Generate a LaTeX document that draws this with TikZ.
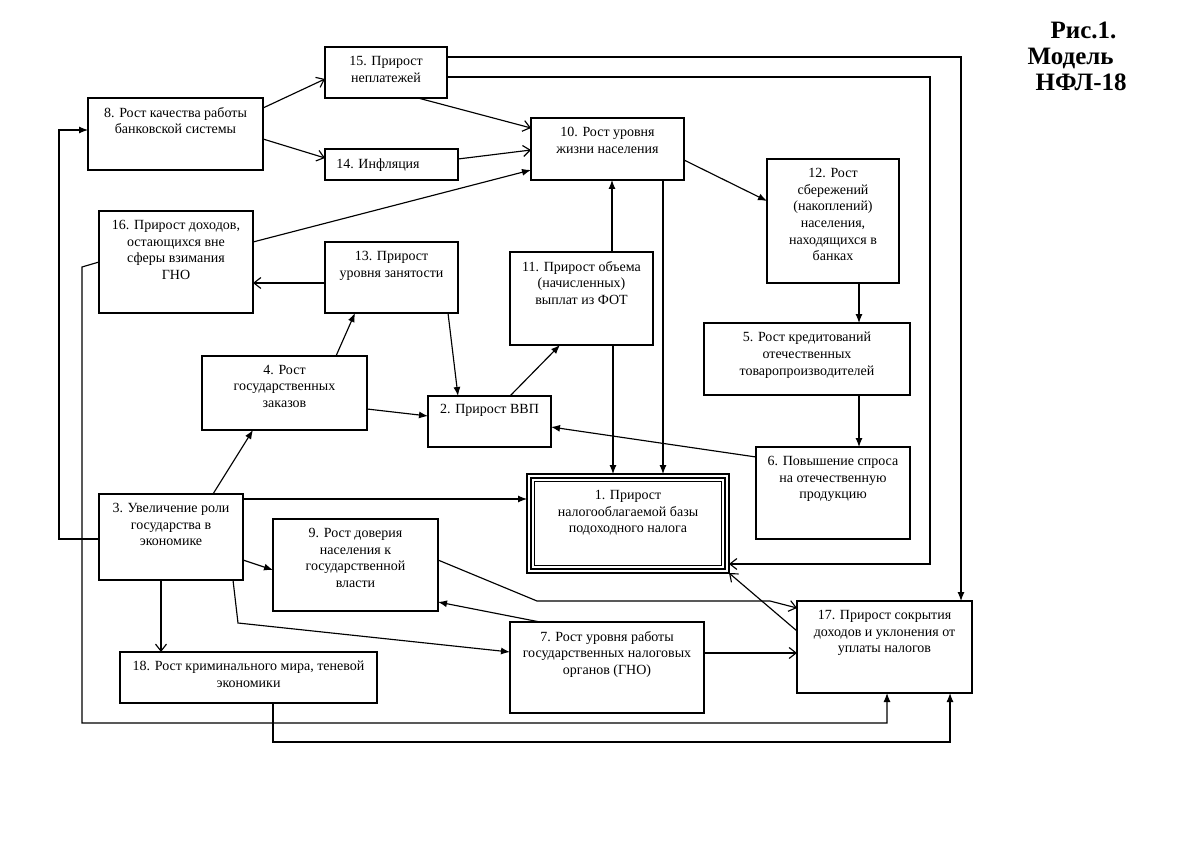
\documentclass[tikz,border=0pt]{standalone}
\usepackage{fontspec}
\setmainfont{Liberation Serif}
\usetikzlibrary{arrows.meta}
\newcommand\mkbox[8]{%
  \node[box, minimum width={(#4-#2)*1pt}, minimum height={(#5-#3)*1pt}] (#1) at ({(#2+#4)/2},{(#3+#5)/2}) {};
  \node[txt, anchor=north] (#1t) at ({(#2+#4)/2+#7},{#3+#6}) {#8};}
\begin{document}
\begin{tikzpicture}[x=1pt,y=-1pt, line width=1.15pt,
  box/.style={draw, rectangle, inner sep=0pt, outer sep=0pt},
  txt/.style={inner sep=0pt, align=center, font=\fontsize{14}{16.7}\selectfont},
  fa/.style={-{Latex[length=9pt,width=7pt]}},
  oa/.style={-{Straight Barb[length=7pt,width=11pt]}},
  ttl/.style={inner sep=0pt, anchor=base west, font=\fontsize{25}{26}\selectfont\bfseries}]
\useasboundingbox (0,0) rectangle (1200,848);

\node[ttl] (t1) at (1050,39) {Рис.1.};
\node[ttl] (t2) at (1027,65) {Модель};
\node[ttl] (t3) at (1035,91) {НФЛ-18};

\mkbox{b15}{325}{47}{447}{98}{8.5}{0}{15. Прирост\\неплатежей}
\mkbox{b8}{88}{98}{263}{170}{8.5}{0}{8. Рост качества работы\\банковской системы}
\mkbox{b14}{325}{149}{458}{180}{9}{-13.5}{14. Инфляция}
\mkbox{b10}{531}{118}{684}{180}{8.5}{0}{10. Рост уровня\\жизни населения}
\mkbox{b12}{767}{159}{899}{283}{8.5}{0}{12. Рост\\сбережений\\(накоплений)\\населения,\\находящихся в\\банках}
\mkbox{b16}{99}{211}{253}{313}{8.5}{0}{16. Прирост доходов,\\остающихся вне\\сферы взимания\\ГНО}
\mkbox{b13}{325}{242}{458}{313}{8.5}{0}{13. Прирост\\уровня занятости}
\mkbox{b11}{510}{252}{653}{345}{8.5}{0}{11. Прирост объема\\(начисленных)\\выплат из ФОТ}
\mkbox{b5}{704}{323}{910}{395}{8.5}{0}{5. Рост кредитований\\отечественных\\товаропроизводителей}
\mkbox{b4}{202}{356}{367}{430}{8.5}{0}{4. Рост\\государственных\\заказов}
\mkbox{b2}{428}{396}{551}{447}{7.5}{0}{2. Прирост ВВП}
\mkbox{b6}{756}{447}{910}{539}{8.5}{0}{6. Повышение спроса\\на отечественную\\продукцию}
\mkbox{b1}{527}{474}{729}{573}{15.5}{0}{1. Прирост\\налогооблагаемой базы\\подоходного налога}
\mkbox{b3}{99}{494}{243}{580}{8.5}{0}{3. Увеличение роли\\государства в\\экономике}
\mkbox{b9}{273}{519}{438}{611}{8.5}{0}{9. Рост доверия\\населения к\\государственной\\власти}
\mkbox{b7}{510}{622}{704}{713}{8.5}{0}{7. Рост уровня работы\\государственных налоговых\\органов (ГНО)}
\mkbox{b17}{797}{601}{972}{693}{8.5}{0}{17. Прирост сокрытия\\доходов и уклонения от\\уплаты налогов}
\mkbox{b18}{120}{652}{377}{703}{8.5}{0}{18. Рост криминального мира, теневой\\экономики}

% triple border of box 1
\draw[line width=1.9pt] ([shift={(4pt,-4pt)}]b1.north west) rectangle ([shift={(-4pt,4pt)}]b1.south east);
\draw[line width=0.8pt] ([shift={(7.5pt,-7.5pt)}]b1.north west) rectangle ([shift={(-7.5pt,7.5pt)}]b1.south east);

% connectors
\draw[oa] ([yshift=-10pt]b8.north east) -- ([yshift=-32pt]b15.north west);
\draw[oa] ([yshift=-41pt]b8.north east) -- ([yshift=-9pt]b14.north west);
\draw[oa] ([xshift=93pt]b15.south west) -- ([yshift=-10pt]b10.north west);
\draw[oa] ([yshift=-10pt]b14.north east) -- ([yshift=-32pt]b10.north west);
\draw[fa] ([yshift=-31pt]b16.north east) -- ([yshift=-52pt]b10.north west);
\draw[oa] ([yshift=-41pt]b13.north west) -- ([yshift=-72pt]b16.north east);
\draw[fa] ([xshift=134pt]b4.north west) -- ([xshift=30pt]b13.south west);
\draw[fa] ([xshift=123pt]b13.south west) -- ([xshift=30pt]b2.north west);
\draw[fa] ([yshift=-53pt]b4.north east) -- ([yshift=-20pt]b2.north west);
\draw[fa] ([xshift=82pt]b2.north west) -- ([xshift=50pt]b11.south west);
\draw[fa] ([xshift=102pt]b11.north west) -- ([xshift=81pt]b10.south west);
\draw[fa] ([yshift=-42pt]b10.north east) -- ([yshift=-42pt]b12.north west);
\draw[fa] ([xshift=92pt]b12.south west) -- ([xshift=155pt]b5.north west);
\draw[fa] ([xshift=155pt]b5.south west) -- ([xshift=103pt]b6.north west);
\draw[fa] ([yshift=-10pt]b6.north west) -- ([yshift=-31pt]b2.north east);
\draw[fa] ([xshift=103pt]b11.south west) -- ([xshift=86pt]b1.north west);
\draw[fa] ([xshift=132pt]b10.south west) -- ([xshift=136pt]b1.north west);
\draw[fa] ([yshift=-5pt]b3.north east) -- ([yshift=-25pt]b1.north west);
\draw[fa] ([xshift=114pt]b3.north west) -- ([xshift=51pt]b4.south west);
\draw[fa] ([yshift=-66pt]b3.north east) -- ([yshift=-51pt]b9.north west);
\draw[oa] ([xshift=62pt]b3.south west) -- ([xshift=41pt]b18.north west);
\draw[fa] ([xshift=134pt]b3.south west) -- (238,623) -- ([yshift=-30pt]b7.north west);
\draw[fa] ([yshift=-45pt]b3.north west) -- (59,539) -- (59,130) -- ([yshift=-32pt]b8.north west);
\draw[fa] (b16.west) -- (82,267) -- (82,723) -- (887,723) -- ([xshift=90pt]b17.south west);
\draw[fa] ([xshift=153pt]b18.south west) -- (273,742) -- (950,742) -- ([xshift=153pt]b17.south west);
\draw[fa] ([yshift=-10pt]b15.north east) -- (961,57) -- ([xshift=164pt]b17.north west);
\draw[oa] ([yshift=-30pt]b15.north east) -- (930,77) -- (930,564) -- ([yshift=9pt]b1.south east);
\draw[oa] ([yshift=-41pt]b9.north east) -- (537,601) -- (770,601) -- ([yshift=-7pt]b17.north west);
\draw[fa] ([xshift=30pt]b7.north west) -- ([yshift=9pt]b9.south east);
\draw[oa] ([yshift=-31pt]b7.north east) -- ([yshift=-52pt]b17.north west);
\draw[oa] ([yshift=-30pt]b17.north west) -- (b1.south east);
\end{tikzpicture}
\end{document}
